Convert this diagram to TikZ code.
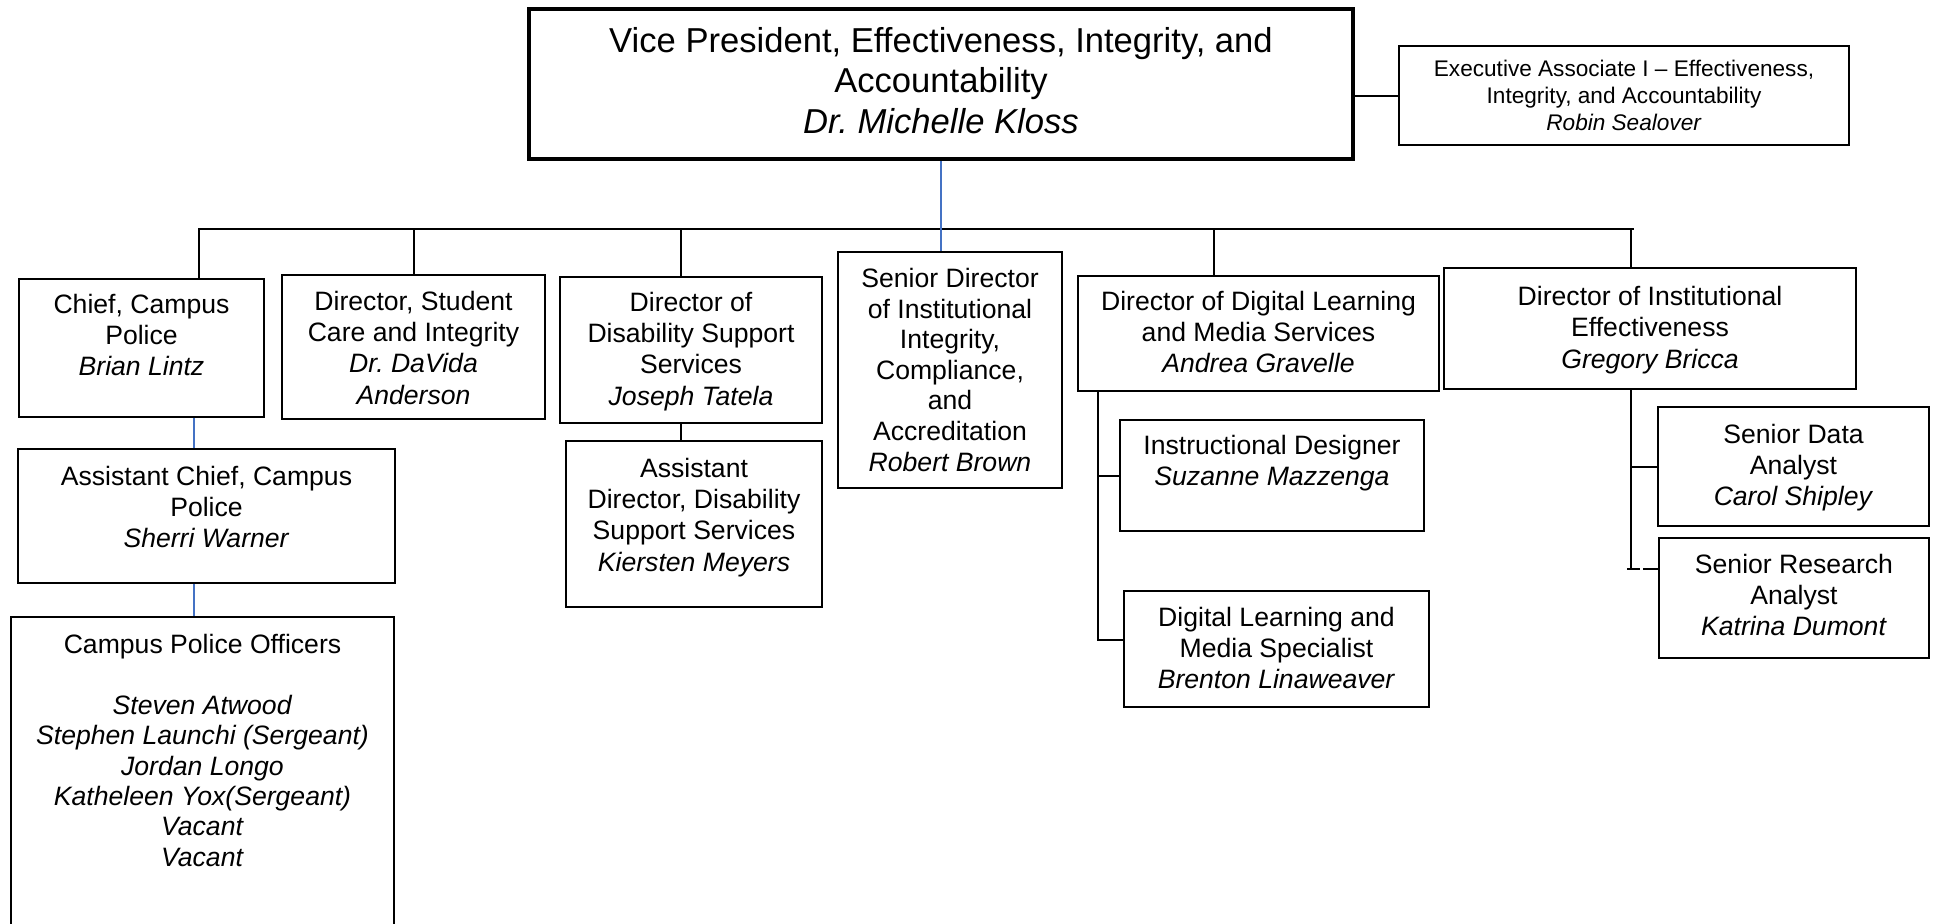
\documentclass[tikz,border=0pt]{standalone}
\usepackage{fontspec}
\setmainfont{Liberation Sans}
\usetikzlibrary{fit,positioning}
\definecolor{linkblue}{RGB}{68,114,196}
\frenchspacing
\tikzset{
  box/.style={draw, line width=1.1pt, inner sep=0pt},
  txt/.style={anchor=north, align=center, inner sep=0pt, font=\fontsize{13.3}{15.6}\selectfont},
  conn/.style={line width=1pt, line cap=rect},
  blueconn/.style={line width=0.8pt, draw=linkblue},
}
\begin{document}
\begin{tikzpicture}[x=0.5pt, y=-0.5pt]
\useasboundingbox (0,0) rectangle (1938,923);
% boxes
\node[box, line width=2pt, fit={(529,9) (1353,159)}] (vp) {};
\node[box, line width=0.9pt, fit={(1399,46) (1849,145)}] (exec) {};
\node[box, fit={(19,279) (264,417)}] (chief) {};
\node[box, fit={(282,275) (545,419)}] (dirst) {};
\node[box, fit={(560,277) (822,423)}] (dis) {};
\node[box, fit={(838,252) (1062,488)}] (sen) {};
\node[box, fit={(1078,276) (1439,391)}] (dl) {};
\node[box, line width=0.9pt, fit={(1444,268) (1856,389)}] (ie) {};
\node[box, fit={(18,449) (395,583)}] (ac) {};
\node[box, fit={(11,617) (394,940)}] (off) {};
\node[box, fit={(566,441) (822,607)}] (ad) {};
\node[box, fit={(1120,420) (1424,531)}] (id) {};
\node[box, fit={(1124,591) (1429,707)}] (dls) {};
\node[box, fit={(1658,407) (1929,526)}] (sda) {};
\node[box, fit={(1659,538) (1929,658)}] (sra) {};
% texts
\node[txt, font=\fontsize{17.3}{20.2}\selectfont, below=10pt of vp.north] (vp-t) {Vice President, Effectiveness, Integrity, and\\Accountability\\\textit{Dr. Michelle Kloss}};
\node[txt, font=\fontsize{11.3}{13.3}\selectfont, below=7.5pt of exec.north] (exec-t) {Executive Associate I – Effectiveness,\\Integrity, and Accountability\\\textit{Robin Sealover}};
\node[txt, below=8pt of chief.north] (chief-t) {Chief, Campus\\Police\\\textit{Brian Lintz}};
\node[txt, below=8.5pt of dirst.north] (dirst-t) {Director, Student\\Care and Integrity\\\textit{Dr. DaVida}\\\textit{Anderson}};
\node[txt, below=8pt of dis.north] (dis-t) {Director of\\Disability Support\\Services\\\textit{Joseph Tatela}};
\node[txt, font=\fontsize{13.3}{15.3}\selectfont, below=8.5pt of sen.north] (sen-t) {Senior Director\\of Institutional\\Integrity,\\Compliance,\\and\\Accreditation\\\textit{Robert Brown}};
\node[txt, below=8pt of dl.north] (dl-t) {Director of Digital Learning\\and Media Services\\\textit{Andrea Gravelle}};
\node[txt, below=9.5pt of ie.north] (ie-t) {Director of Institutional\\Effectiveness\\\textit{Gregory Bricca}};
\node[txt, below=9pt of ac.north] (ac-t) {Assistant Chief, Campus\\Police\\\textit{Sherri Warner}};
\node[txt, font=\fontsize{13.3}{15.2}\selectfont, below=9pt of off.north] (off-t) {Campus Police Officers\\[15.2pt]\textit{Steven Atwood}\\\textit{Stephen Launchi (Sergeant)}\\\textit{Jordan Longo}\\\textit{Katheleen Yox(Sergeant)}\\\textit{Vacant}\\\textit{Vacant}};
\node[txt, below=9pt of ad.north] (ad-t) {Assistant\\Director, Disability\\Support Services\\\textit{Kiersten Meyers}};
\node[txt, below=8pt of id.north] (id-t) {Instructional Designer\\\textit{Suzanne Mazzenga}};
\node[txt, below=8.5pt of dls.north] (dls-t) {Digital Learning and\\Media Specialist\\\textit{Brenton Linaweaver}};
\node[txt, below=9pt of sda.north] (sda-t) {Senior Data\\Analyst\\\textit{Carol Shipley}};
\node[txt, below=8.5pt of sra.north] (sra-t) {Senior Research\\Analyst\\\textit{Katrina Dumont}};
% connectors
\coordinate (busL) at (199,229);
\coordinate (busR) at (1633,229);
\coordinate (dlv) at (1098,391);
\coordinate (iev) at (1631,389);
\coordinate (dlend) at (1098,640);
\coordinate (ieend) at (1631,569);
\coordinate (sragap) at (1641,569);
\draw[conn] (busL) -- (busR);
\draw[conn] (busL) -- (busL |- chief.north);
\draw[conn] (dirst.north) -- (dirst.north |- busL);
\draw[conn] (681,229) -- (681,277) coordinate (disTop);
\draw[conn] (1214,229) -- (1214,276) coordinate (dlTop);
\draw[conn] (busR -| iev) -- (iev |- ie.north);
\draw[blueconn] (vp.south) -- (vp.south |- sen.north);
\draw[conn] (vp.east |- exec.west) -- (exec.west);
\draw[blueconn] (chief.south -| 194,0) -- (ac.north -| 194,0);
\draw[blueconn] (ac.south -| 194,0) -- (off.north -| 194,0);
\draw[conn] (disTop |- dis.south) -- (disTop |- ad.north);
\draw[conn] (dlv) -- (dlend);
\draw[conn] (dlv |- id.west) -- (id.west);
\draw[conn] (dlend) -- (dls.west |- dlend);
\draw[conn] (iev) -- (ieend);
\draw[conn] (iev |- sda.west) -- (sda.west);
\draw[conn] ([xshift=-1.5pt]ieend) -- ([xshift=-1pt]sragap);
\draw[conn] ([xshift=1.5pt]sragap) -- (sra.west |- sragap);
\end{tikzpicture}
\end{document}
